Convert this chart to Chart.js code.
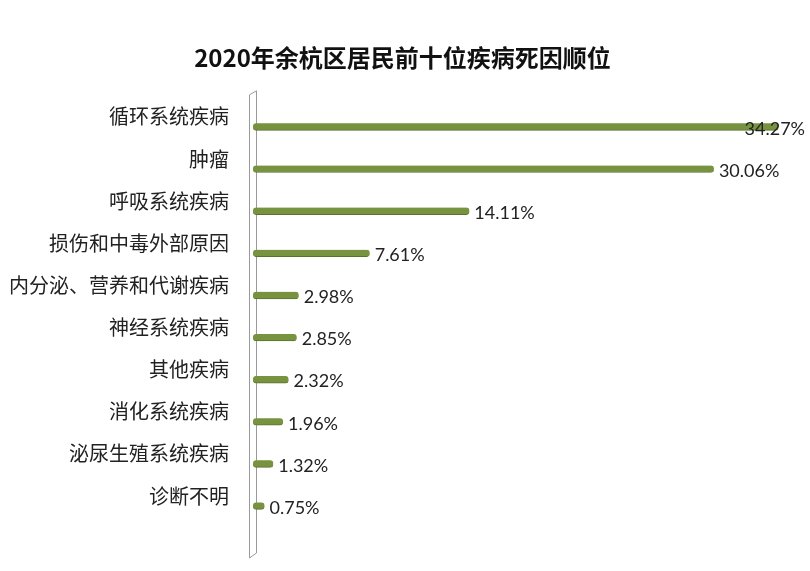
<!DOCTYPE html>
<html>
<head>
<meta charset="utf-8">
<script src="https://cdn.jsdelivr.net/npm/chart.js@4/dist/chart.umd.min.js"></script>
<style>
  html, body { margin: 0; padding: 0; background: #fff; }
  #wrap { width: 810px; height: 571px; }
</style>
</head>
<body>
<div id="wrap"><canvas id="chart-death" width="810" height="571"></canvas></div>
<script>
const causes = [
  '循环系统疾病', '肿瘤', '呼吸系统疾病', '损伤和中毒外部原因', '内分泌、营养和代谢疾病',
  '神经系统疾病', '其他疾病', '消化系统疾病', '泌尿生殖系统疾病', '诊断不明',
];
const shares = [34.27, 30.06, 14.11, 7.61, 2.98, 2.85, 2.32, 1.96, 1.32, 0.75];
const chartTitle = '2020年余杭区居民前十位疾病死因顺位';

const barGreen = '#789340';
const barEdge = '#5a702e';
const textColor = '#222';

// the thin "3D wall" on the left of the plot, as in the Excel original
const wallPlugin = {
  id: 'wall',
  beforeDatasetsDraw(chart) {
    const { ctx, chartArea } = chart;
    const x0 = chartArea.left - 4;
    const x1 = chartArea.left + 3;
    const top = chartArea.top - 15;
    const bottom = chartArea.bottom + 27;
    ctx.save();
    ctx.strokeStyle = '#9a9a9a';
    ctx.lineWidth = 1;
    ctx.beginPath();
    ctx.moveTo(x0 + 0.5, top + 4);
    ctx.lineTo(x0 + 0.5, bottom + 4);
    ctx.lineTo(x1 + 0.5, bottom - 1);
    ctx.lineTo(x1 + 0.5, top);
    ctx.lineTo(x0 + 0.5, top + 4);
    ctx.stroke();
    ctx.restore();
  },
};

const valueLabels = {
  id: 'valueLabels',
  afterDatasetsDraw(chart) {
    const { ctx } = chart;
    const meta = chart.getDatasetMeta(0);
    ctx.save();
    ctx.font = '18px Lato, "Liberation Sans", sans-serif';
    ctx.fillStyle = textColor;
    ctx.textBaseline = 'middle';
    meta.data.forEach((bar, i) => {
      const text = `${shares[i].toFixed(2)}%`;
      const w = ctx.measureText(text).width;
      const x = Math.min(bar.x + 5, chart.width - 5 - w);
      ctx.fillText(text, x, bar.y + 2);
    });
    ctx.restore();
  },
};

new Chart(document.getElementById('chart-death').getContext('2d'), {
  type: 'bar',
  data: {
    labels: causes,
    datasets: [{
      data: shares,
      backgroundColor: barGreen,
      borderColor: barEdge,
      borderWidth: { top: 0, right: 0, bottom: 1, left: 0 },
      borderSkipped: false,
      borderRadius: 3,
      barThickness: 7,
    }],
  },
  options: {
    responsive: false,
    animation: false,
    indexAxis: 'y',
    layout: { padding: { left: 0, right: 5, top: 0, bottom: 44 } },
    plugins: {
      legend: { display: false },
      tooltip: { enabled: false },
      title: {
        display: true,
        text: chartTitle,
        color: '#111',
        font: { family: '"Noto Sans CJK SC", sans-serif', size: 24, weight: 'bold' },
        padding: { top: 43, bottom: 34 },
      },
    },
    scales: {
      x: { display: false, min: 0, max: 36 },
      y: {
        grid: { display: false },
        border: { display: false },
        ticks: {
          color: textColor,
          padding: 16,
          labelOffset: -10,
          font: { family: '"Noto Sans CJK SC", sans-serif', size: 20 },
        },
        afterFit: (scale) => { scale.width = 253; },
      },
    },
  },
  plugins: [wallPlugin, valueLabels],
});
</script>
</body>
</html>
